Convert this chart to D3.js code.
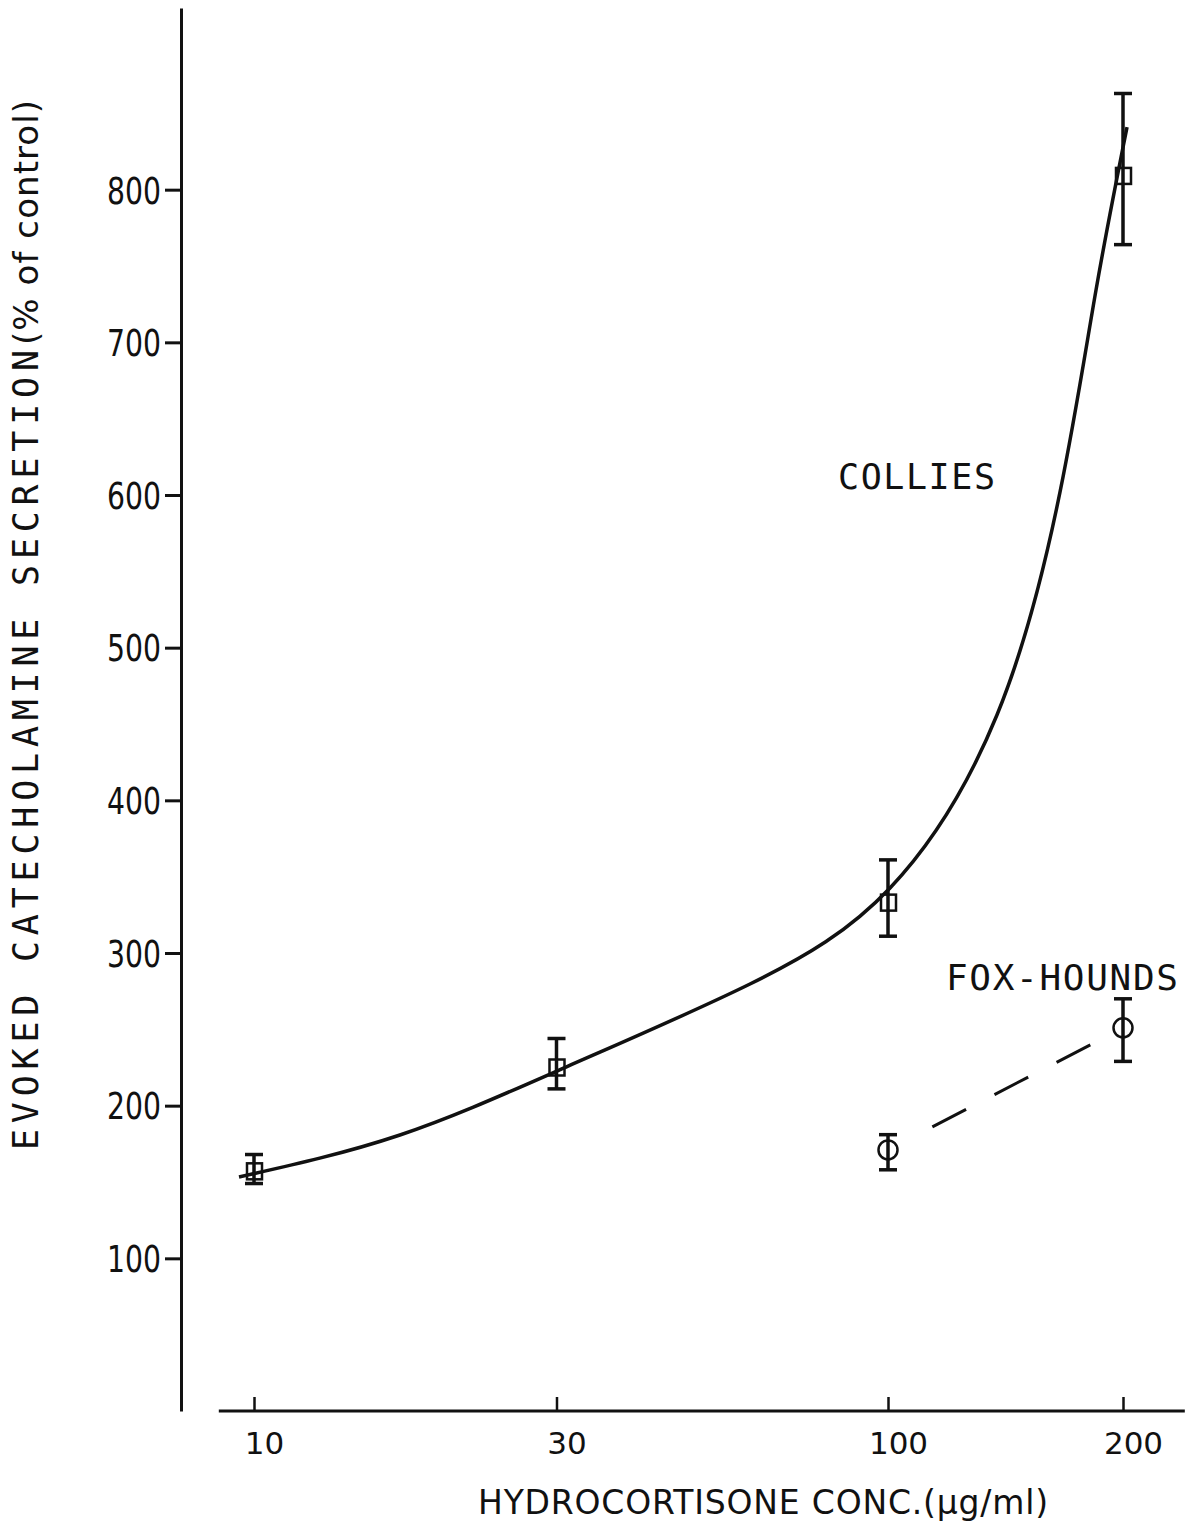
<!DOCTYPE html>
<html>
<head>
<meta charset="utf-8">
<script src="https://cdn.jsdelivr.net/npm/d3@7"></script>
<style>
  body { margin: 0; background: #fff; }
  .mono { font-family: "DejaVu Sans Mono", monospace; fill: #111; }
  .sans { font-family: "DejaVu Sans", sans-serif; fill: #111; }
</style>
</head>
<body>
<script>
// ---- data ----
const xTicks = [10, 30, 100, 200];
const yTicks = [100, 200, 300, 400, 500, 600, 700, 800];

// collies: mean and error bar limits
const colliesConc = [10, 30, 100, 200];
const colliesMean = [157, 225, 333, 809];
const colliesLow  = [149, 211, 311, 764];
const colliesHigh = [168, 244, 361, 863];

// fox-hounds
const foxConc = [100, 200];
const foxMean = [171, 251];
const foxLow  = [158, 229];
const foxHigh = [181, 270];

// hand drawn curve through the collies points
const curveConc = [9.47, 16.99, 31.05, 60.58, 100.6, 137.9, 166.1, 184.7, 202.4];
const curveVal  = [153.3, 180.8, 225.3, 279.7, 342.6, 455.9, 602.0, 734.3, 841.0];

const width = 1197, height = 1526;

const svg = d3.select("body").append("svg")
  .attr("width", width)
  .attr("height", height)

// the x axis of the original is not a clean log axis, so it is log by segments
const xScale = d3.scaleLog()
  .domain([10, 100, 200])
  .range([254, 888, 1123]);

const yScale = d3.scaleLinear()
  .domain([0, 919])
  .range([1411, 8]);

// y axis
const yAxis = d3.axisLeft(yScale)
  .tickValues(yTicks)
  .tickSize(16)
  .tickSizeOuter(0)
  .tickPadding(4);

const yG = svg.append("g")
  .attr("transform", "translate(181, 0)")
  .call(yAxis)
yG.select(".domain").attr("stroke", "#111").attr("stroke-width", 3)
yG.selectAll(".tick line").attr("stroke", "#111").attr("stroke-width", 3)
yG.selectAll(".tick text")
  .attr("class", "sans")
  .attr("font-size", 37)
  .attr("dy", "0.36em")
  .attr("textLength", d => String(d).length * 18)
  .attr("lengthAdjust", "spacingAndGlyphs")

// x axis
const xAxis = d3.axisBottom(xScale)
  .tickValues(xTicks)
  .tickFormat(d3.format("d"))
  .tickSize(-14)
  .tickSizeOuter(0)
  .tickPadding(21);

const xG = svg.append("g")
  .attr("transform", "translate(0, 1411)")
  .call(xAxis)
xG.select(".domain").remove()
xG.append("line")
  .attr("x1", xScale(8.8))
  .attr("x2", xScale(240))
  .attr("stroke", "#111")
  .attr("stroke-width", 3)
xG.selectAll(".tick line").attr("stroke", "#111").attr("stroke-width", 2.5)
xG.selectAll(".tick text")
  .attr("class", "sans")
  .attr("font-size", 31)
  .attr("dx", 10)

// axis titles
svg.append("text")
  .attr("class", "mono")
  .attr("transform", "translate(38, 1150) rotate(-90)")
  .attr("font-size", 35)
  .attr("textLength", 800)
  .attr("lengthAdjust", "spacing")
  .text("EVOKED  CATECHOLAMINE  SECRETION")

svg.append("text")
  .attr("class", "sans")
  .attr("transform", "translate(38, 345) rotate(-90)")
  .attr("font-size", 34)
  .attr("textLength", 245)
  .attr("lengthAdjust", "spacing")
  .text("(% of control)")

svg.append("text")
  .attr("class", "sans")
  .attr("x", 478)
  .attr("y", 1514)
  .attr("font-size", 33)
  .attr("textLength", 570)
  .attr("lengthAdjust", "spacing")
  .text("HYDROCORTISONE CONC.(μg/ml)")

// collies curve
const curveData = curveConc.map((c, i) => ({ c: c, v: curveVal[i] }))
const curveLine = d3.line()
  .x(d => xScale(d.c))
  .y(d => yScale(d.v))
  .curve(d3.curveNatural)

svg.append("path")
  .datum(curveData)
  .attr("fill", "none")
  .attr("stroke", "#111")
  .attr("stroke-width", 3.5)
  .attr("d", curveLine)

// fox-hounds dashed line
const foxData = foxConc.map((c, i) => ({ c: c, v: foxMean[i], lo: foxLow[i], hi: foxHigh[i] }))
svg.append("path")
  .datum(foxData)
  .attr("fill", "none")
  .attr("stroke", "#111")
  .attr("stroke-width", 3)
  .attr("stroke-dasharray", "0 50 38 32 38 32 38 60")
  .attr("d", d3.line().x(d => xScale(d.c)).y(d => yScale(d.v)))

// error bars
const colliesData = colliesConc.map((c, i) => ({ c: c, v: colliesMean[i], lo: colliesLow[i], hi: colliesHigh[i] }))

const drawErr = (data, cls) => {
  const g = svg.selectAll("g." + cls)
    .data(data)
    .enter().append("g")
    .attr("class", cls)
    .attr("stroke", "#111")
    .attr("stroke-width", 3.5)
  g.append("line")
    .attr("x1", d => xScale(d.c)).attr("x2", d => xScale(d.c))
    .attr("y1", d => yScale(d.lo)).attr("y2", d => yScale(d.hi))
  g.append("line")
    .attr("x1", d => xScale(d.c) - 9).attr("x2", d => xScale(d.c) + 9)
    .attr("y1", d => yScale(d.lo)).attr("y2", d => yScale(d.lo))
  g.append("line")
    .attr("x1", d => xScale(d.c) - 9).attr("x2", d => xScale(d.c) + 9)
    .attr("y1", d => yScale(d.hi)).attr("y2", d => yScale(d.hi))
  return g
}

drawErr(colliesData, "collies")
  .append("rect")
  .attr("x", d => xScale(d.c) - 7)
  .attr("y", d => yScale(d.v) - 8)
  .attr("width", 15)
  .attr("height", 16)
  .attr("fill", "none")
  .attr("stroke-width", 2.5)

drawErr(foxData, "fox")
  .append("circle")
  .attr("cx", d => xScale(d.c))
  .attr("cy", d => yScale(d.v))
  .attr("r", 9.5)
  .attr("fill", "none")
  .attr("stroke-width", 2.5)

// series labels
svg.append("text")
  .attr("class", "mono")
  .attr("x", 838)
  .attr("y", yScale(600) - 6)
  .attr("font-size", 35)
  .attr("textLength", 157)
  .text("COLLIES")

svg.append("text")
  .attr("class", "mono")
  .attr("x", 946)
  .attr("y", yScale(276))
  .attr("font-size", 36)
  .attr("textLength", 232)
  .text("FOX-HOUNDS")
</script>
</body>
</html>
